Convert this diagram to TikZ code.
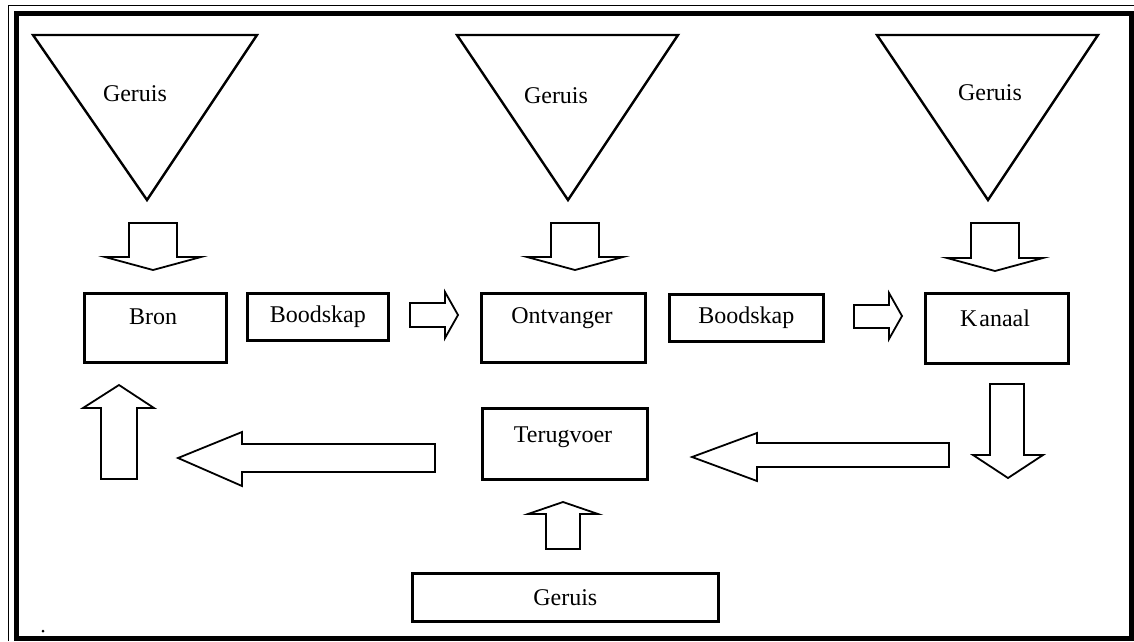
\documentclass[tikz,border=0pt]{standalone}
\usepackage{fontspec}
\setmainfont{Liberation Serif}
\begin{document}
\begin{tikzpicture}[x=1pt,y=-1pt,
  box/.style={draw, line width=2.6pt, inner sep=0pt, anchor=north west},
  lbl/.style={font=\fontsize{24}{24}\selectfont, inner sep=0pt},
  tri/.style={draw, line width=2.4pt, line join=miter},
  barrow/.style={draw, line width=1.8pt, line join=miter}]
\useasboundingbox (0,0) rectangle (1134,641);
\fill[white] (0,0) rectangle (1134,641);
% frame
\draw[line width=1pt] (8,641) -- (8,5) -- (1134,5);
\draw[line width=5pt] (16,13) rectangle (1131,638);
% noise triangles
\draw[tri] (33,35) -- (257,35) -- (147,200) -- cycle;
\draw[tri] (457,35) -- (678,35) -- (568,200) -- cycle;
\draw[tri] (877,35) -- (1098,35) -- (988,200) -- cycle;
\node[lbl] (g1) at (135,94) {Geruis};
\node[lbl] (g2) at (556,96) {Geruis};
\node[lbl] (g3) at (990,93) {Geruis};
% down block arrows (top)
\draw[barrow] (129,223) -- (177,223) -- (177,257) -- (201,257) -- (153,270) -- (105,257) -- (129,257) -- cycle;
\draw[barrow] (551,223) -- (599,223) -- (599,257) -- (623,257) -- (575,270) -- (527,257) -- (551,257) -- cycle;
\draw[barrow] (971,223) -- (1019,223) -- (1019,258) -- (1043,258) -- (995,271) -- (947,258) -- (971,258) -- cycle;
% boxes
\node[box, minimum width=142pt, minimum height=69pt] (bron) at (83,292) {};
\node[lbl] (tbron) at (153,317) {Bron};
\node[box, minimum width=141pt, minimum height=47pt] (bood1) at (246,292) {};
\node[lbl] (tbood1) at (bood1.center) {Boodskap};
\node[box, minimum width=164pt, minimum height=69pt] (ontv) at (480,292) {};
\node[lbl] (tontv) at (562,318) {Ontvanger};
\node[box, minimum width=154pt, minimum height=47pt] (bood2) at (668,293) {};
\node[lbl] (tbood2) at (bood2.center) {Boodskap};
\node[box, minimum width=143pt, minimum height=70pt] (kanaal) at (924,292) {};
\node[lbl] (tkanaal) at (995,318) {K\kern2pt anaal};
\node[box, minimum width=165pt, minimum height=71pt] (terug) at (481,407) {};
\node[lbl] (tterug) at (563,437) {Terugvoer};
\node[box, minimum width=306pt, minimum height=48pt] (geruis) at (411,572) {};
\node[lbl] (tgeruis) at (geruis.center) {Geruis};
% right block arrows
\draw[barrow] (410,303) -- (445,303) -- (445,292) -- (458,315) -- (445,338) -- (445,327) -- (410,327) -- cycle;
\draw[barrow] (854,305) -- (889,305) -- (889,293) -- (902,316) -- (889,339) -- (889,328) -- (854,328) -- cycle;
% bottom row arrows
\draw[barrow] (101,479) -- (101,408) -- (83,408) -- (119,385) -- (154,408) -- (137,408) -- (137,479) -- cycle;
\draw[barrow] (435,444) -- (242,444) -- (242,432) -- (178,458) -- (242,486) -- (242,472) -- (435,472) -- cycle;
\draw[barrow] (546,549) -- (546,514) -- (528,514) -- (563,502) -- (598,514) -- (580,514) -- (580,549) -- cycle;
\draw[barrow] (949,443) -- (757,443) -- (757,433) -- (692,457) -- (757,481) -- (757,467) -- (949,467) -- cycle;
\draw[barrow] (990,384) -- (1024,384) -- (1024,455) -- (1043,455) -- (1008,478) -- (973,455) -- (990,455) -- cycle;
% stray dot
\fill (43,631) circle (1.5pt);
\end{tikzpicture}
\end{document}
